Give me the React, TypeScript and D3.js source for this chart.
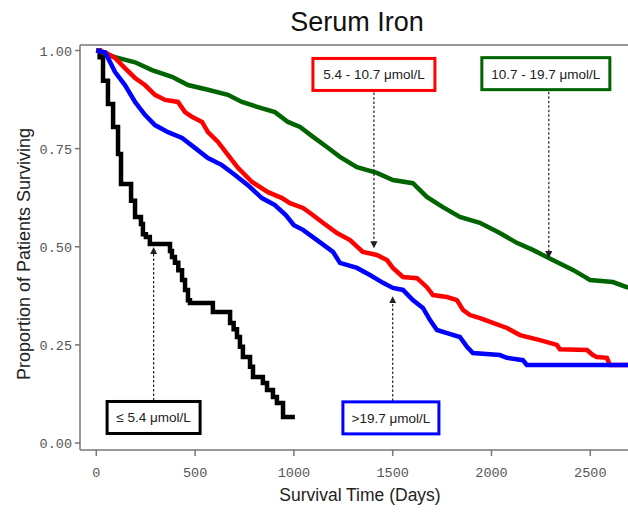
import React from "react";
import * as d3 from "d3";

// ---- data (day, proportion surviving) ----
const lowIron: [number, number][] = [
  [0, 1.0], [17, 0.983], [34, 0.923], [59, 0.864], [85, 0.805], [110, 0.736],
  [125, 0.66], [170, 0.66], [176, 0.617], [196, 0.576], [226, 0.558], [236, 0.532],
  [251, 0.525], [271, 0.507], [363, 0.507], [373, 0.489], [383, 0.474], [398, 0.459],
  [415, 0.44], [434, 0.415], [449, 0.39], [464, 0.364], [474, 0.357], [585, 0.357],
  [590, 0.334], [662, 0.334], [677, 0.306], [695, 0.29], [712, 0.27], [727, 0.245],
  [742, 0.219], [778, 0.194], [793, 0.168], [843, 0.153], [864, 0.135], [894, 0.117],
  [914, 0.102], [945, 0.066], [1005, 0.066],
];
const midLowIron: [number, number][] = [
  [0, 1.0], [45, 0.995], [95, 0.981], [145, 0.955], [196, 0.93], [246, 0.912],
  [297, 0.887], [348, 0.874], [413, 0.869], [449, 0.843], [484, 0.831], [535, 0.818],
  [565, 0.792], [616, 0.767], [666, 0.734], [717, 0.701], [788, 0.665], [869, 0.639],
  [940, 0.624], [980, 0.611], [1046, 0.599], [1082, 0.586], [1147, 0.561], [1218, 0.535],
  [1284, 0.517], [1349, 0.487], [1420, 0.479], [1471, 0.466], [1501, 0.446], [1552, 0.423],
  [1623, 0.42], [1673, 0.397], [1704, 0.377], [1775, 0.372], [1825, 0.364], [1856, 0.339],
  [1891, 0.326], [1942, 0.318], [2007, 0.306], [2078, 0.293], [2144, 0.275], [2245, 0.262],
  [2331, 0.25], [2346, 0.239], [2483, 0.237], [2513, 0.224], [2533, 0.219], [2584, 0.217],
  [2599, 0.199], [2720, 0.199],
];
const midHighIron: [number, number][] = [
  [0, 1.0], [95, 0.983], [196, 0.97], [282, 0.95], [383, 0.933], [464, 0.912],
  [565, 0.9], [666, 0.887], [737, 0.869], [818, 0.856], [904, 0.843], [970, 0.818],
  [1031, 0.805], [1097, 0.78], [1167, 0.754], [1233, 0.729], [1319, 0.703], [1420, 0.688],
  [1501, 0.67], [1602, 0.662], [1673, 0.627], [1754, 0.601], [1840, 0.576], [1941, 0.561],
  [2042, 0.535], [2128, 0.51], [2209, 0.492], [2310, 0.466], [2412, 0.441], [2483, 0.42],
  [2498, 0.415], [2614, 0.41], [2685, 0.397], [2720, 0.397],
];
const highIron: [number, number][] = [
  [0, 1.0], [45, 0.995], [95, 0.945], [145, 0.912], [196, 0.869], [246, 0.836],
  [297, 0.81], [363, 0.792], [434, 0.777], [499, 0.752], [565, 0.726], [636, 0.708],
  [702, 0.683], [767, 0.657], [838, 0.624], [904, 0.606], [960, 0.58], [1000, 0.555],
  [1046, 0.543], [1117, 0.517], [1198, 0.487], [1233, 0.459], [1319, 0.446], [1385, 0.428],
  [1451, 0.408], [1501, 0.395], [1552, 0.39], [1602, 0.364], [1653, 0.344], [1689, 0.313],
  [1724, 0.288], [1775, 0.28], [1840, 0.27], [1876, 0.245], [1906, 0.229], [2042, 0.224],
  [2078, 0.217], [2159, 0.211], [2179, 0.199], [2720, 0.199],
];

const seriesNames = ["≤ 5.4 μmol/L", "5.4 - 10.7 μmol/L", "10.7 - 19.7 μmol/L", ">19.7 μmol/L"];
const seriesColors = ["#000000", "#ff0000", "#006400", "#0000ff"];
// annotation: arrow day / arrow tip survival / box centre (day, survival)
const arrowDays = [290, 1405, 2290, 1500];
const arrowTips = [0.49, 0.505, 0.48, 0.365];
const boxCenters: [number, number][] = [[290, 0.065], [1405, 0.939], [2275, 0.941], [1491, 0.064]];

const xTicks = [0, 500, 1000, 1500, 2000, 2500];
const yTicks = [0, 0.25, 0.5, 0.75, 1.0];

export default function App() {
  const W = 628, H = 516;
  const x = d3.scaleLinear().domain([0, 2500]).range([96.3, 590.3]);
  const y = d3.scaleLinear().domain([0, 1]).range([443, 50.5]);
  const axisLeft = 80, axisBottom = 450, frameTop = 45;
  const stepLine = d3.line<[number, number]>()
    .x(d => x(d[0])).y(d => y(d[1])).curve(d3.curveStepAfter);
  const plainLine = d3.line<[number, number]>()
    .x(d => x(d[0])).y(d => y(d[1]));

  const series = [lowIron, midHighIron, midLowIron, highIron];
  const seriesIdx = [0, 2, 1, 3];

  const boxW = [93, 122, 128, 96];
  const boxH = 32;

  return (
    <svg width={W} height={H} style={{ position: "absolute", left: 0, top: 0, background: "#fff" }}>
      <defs>
        <marker id="ah" viewBox="0 0 6 6" refX="3" refY="3" markerWidth="6" markerHeight="6" orient="auto">
          <path d="M0,0 L6,3 L0,6 z" fill="#222" />
        </marker>
      </defs>
      <rect x={0} y={0} width={W} height={H} fill="#fff" />
      <text x={357} y={31} textAnchor="middle" fontFamily="Liberation Sans, Arial, sans-serif" fontSize={27} fill="#111">Serum Iron</text>

      {/* frame */}
      <line x1={axisLeft} x2={W + 10} y1={frameTop} y2={frameTop} stroke="#777" strokeWidth={1.5} />
      <line x1={axisLeft} x2={axisLeft} y1={frameTop} y2={axisBottom} stroke="#777" strokeWidth={1.5} />
      <line x1={axisLeft} x2={W + 10} y1={axisBottom} y2={axisBottom} stroke="#777" strokeWidth={1.5} />

      {yTicks.map(t => (
        <g key={"y" + t}>
          <line x1={axisLeft - 5} x2={axisLeft} y1={y(t)} y2={y(t)} stroke="#777" strokeWidth={1.5} />
          <text x={axisLeft - 8} y={y(t) + 5} textAnchor="end" fontFamily="Liberation Mono, DejaVu Sans Mono, monospace" fontSize={13.5} fill="#555">{t.toFixed(2)}</text>
        </g>
      ))}
      {xTicks.map(t => (
        <g key={"x" + t}>
          <line x1={x(t)} x2={x(t)} y1={axisBottom} y2={axisBottom + 6} stroke="#777" strokeWidth={1.5} />
          <text x={x(t)} y={477} textAnchor="middle" fontFamily="Liberation Mono, DejaVu Sans Mono, monospace" fontSize={13.5} fill="#555">{t}</text>
        </g>
      ))}

      <text x={360} y={501} textAnchor="middle" fontFamily="Liberation Sans, Arial, sans-serif" fontSize={17.5} fill="#222">Survival Time (Days)</text>
      <text transform={`translate(30,254) rotate(-90)`} textAnchor="middle" fontFamily="Liberation Sans, Arial, sans-serif" fontSize={18} fill="#222">Proportion of Patients Surviving</text>

      {series.map((s, i) => (
        <path key={i} d={(seriesIdx[i] === 0 ? stepLine(s) : plainLine(s)) || ""} fill="none" stroke={seriesColors[seriesIdx[i]]} strokeWidth={4.5} strokeLinejoin="miter" />
      ))}

      {seriesNames.map((name, i) => {
        const [cd, cs] = boxCenters[i];
        const cx = x(cd), cy = y(cs);
        const bx = cx - boxW[i] / 2, by = cy - boxH / 2;
        const above = cs > arrowTips[i];
        const ax = x(arrowDays[i]);
        const startY = above ? by + boxH + 2 : by - 1;
        return (
          <g key={name}>
            <line x1={ax} x2={ax} y1={startY} y2={y(arrowTips[i])} stroke="#222" strokeWidth={1.2} strokeDasharray="2.5,2" markerEnd="url(#ah)" />
            <rect x={bx} y={by} width={boxW[i]} height={boxH} fill="#fff" stroke={seriesColors[i]} strokeWidth={3} />
            <text x={cx} y={cy + 5} textAnchor="middle" fontFamily="Liberation Sans, Arial, sans-serif" fontSize={13.5} fill="#222">{name}</text>
          </g>
        );
      })}
    </svg>
  );
}
